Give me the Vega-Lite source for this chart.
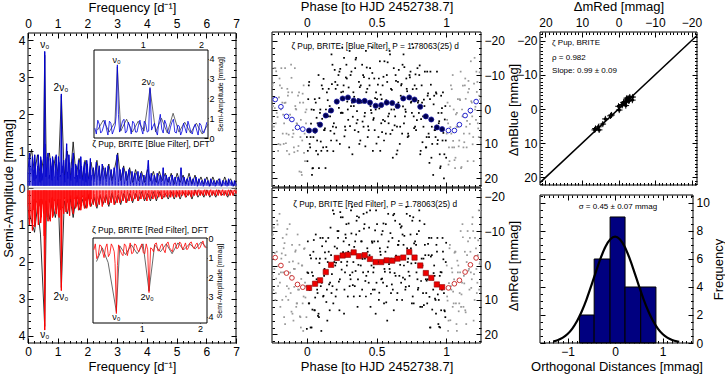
{
"$schema":"https://vega.github.io/schema/vega-lite/v6.json",
"width":725,"height":381,"autosize":"none","padding":0,"background":"white",
"config":{"view":{"stroke":null},"axis":{"domain":false,"grid":false,"tickColor":"black","tickSize":-5,"labelPadding":8,"labelFont":"Liberation Sans","labelFontSize":12,"labelColor":"black","titleFont":"Liberation Sans","titleFontSize":13,"titleFontWeight":"normal","titleColor":"black","labelFlush":false,"labelOverlap":false,"titlePadding":3},"text":{"font":"Liberation Sans","color":"black"}},
"datasets":{
"one":[{}],
"blue":[{"f":0,"a":0.45},{"f":0.05,"a":0.95},{"f":0.1,"a":0.3},{"f":0.15,"a":0.85},{"f":0.2,"a":0.2},{"f":0.25,"a":0.7},{"f":0.3,"a":0.35},{"f":0.35,"a":0.9},{"f":0.4,"a":0.15},{"f":0.45,"a":0.75},{"f":0.5,"a":0.4},{"f":0.54,"a":1.1},{"f":0.5616,"a":3.7},{"f":0.58,"a":1.2},{"f":0.6,"a":0.3},{"f":0.65,"a":0.85},{"f":0.7,"a":0.25},{"f":0.75,"a":0.8},{"f":0.8,"a":0.2},{"f":0.85,"a":0.75},{"f":0.9,"a":0.3},{"f":0.95,"a":0.9},{"f":1,"a":0.2},{"f":1.05,"a":0.7},{"f":1.1,"a":0.35},{"f":1.123,"a":2.55},{"f":1.15,"a":0.4},{"f":1.2,"a":0.75},{"f":1.25,"a":0.15},{"f":1.3,"a":1.2},{"f":1.35,"a":0.25},{"f":1.4,"a":0.7},{"f":1.45,"a":0.2},{"f":1.5,"a":0.8},{"f":1.55,"a":0.3},{"f":1.6,"a":0.65},{"f":1.65,"a":0.15},{"f":1.7,"a":0.75},{"f":1.75,"a":0.25},{"f":1.8,"a":0.6},{"f":1.85,"a":0.2},{"f":1.9,"a":0.7},{"f":1.95,"a":0.15},{"f":2,"a":0.65},{"f":2.05,"a":0.25},{"f":2.1,"a":0.8},{"f":2.15,"a":0.2},{"f":2.2,"a":0.55},{"f":2.25,"a":0.15},{"f":2.3,"a":0.7},{"f":2.35,"a":0.2},{"f":2.4,"a":0.6},{"f":2.45,"a":0.1},{"f":2.5,"a":0.65},{"f":2.55,"a":0.2},{"f":2.6,"a":0.55},{"f":2.65,"a":0.15},{"f":2.7,"a":0.6},{"f":2.75,"a":0.2},{"f":2.8,"a":0.5},{"f":2.85,"a":0.1},{"f":2.9,"a":0.55},{"f":2.95,"a":0.2},{"f":3,"a":0.9},{"f":3.05,"a":0.15},{"f":3.1,"a":0.5},{"f":3.15,"a":0.2},{"f":3.2,"a":0.55},{"f":3.25,"a":0.1},{"f":3.3,"a":0.45},{"f":3.35,"a":0.2},{"f":3.4,"a":0.5},{"f":3.45,"a":0.1},{"f":3.5,"a":0.45},{"f":3.55,"a":0.15},{"f":3.6,"a":0.4},{"f":3.65,"a":0.1},{"f":3.7,"a":0.45},{"f":3.75,"a":0.15},{"f":3.8,"a":0.4},{"f":3.85,"a":0.1},{"f":3.9,"a":0.35},{"f":3.95,"a":0.15},{"f":4,"a":0.4},{"f":4.05,"a":0.75},{"f":4.1,"a":0.15},{"f":4.15,"a":0.4},{"f":4.2,"a":0.1},{"f":4.25,"a":0.35},{"f":4.3,"a":0.15},{"f":4.35,"a":0.4},{"f":4.4,"a":0.1},{"f":4.45,"a":0.35},{"f":4.5,"a":0.15},{"f":4.55,"a":0.55},{"f":4.6,"a":0.1},{"f":4.65,"a":0.35},{"f":4.7,"a":0.15},{"f":4.75,"a":0.3},{"f":4.8,"a":0.1},{"f":4.85,"a":0.35},{"f":4.9,"a":0.15},{"f":4.95,"a":0.3},{"f":5,"a":0.1},{"f":5.05,"a":0.3},{"f":5.1,"a":0.15},{"f":5.15,"a":0.55},{"f":5.2,"a":0.1},{"f":5.25,"a":0.3},{"f":5.3,"a":0.1},{"f":5.35,"a":0.25},{"f":5.4,"a":0.15},{"f":5.45,"a":0.3},{"f":5.5,"a":0.1},{"f":5.55,"a":0.25},{"f":5.6,"a":0.1},{"f":5.65,"a":0.3},{"f":5.7,"a":0.05},{"f":5.75,"a":0.25},{"f":5.8,"a":0.1},{"f":5.85,"a":0.2},{"f":5.9,"a":0.05},{"f":5.95,"a":0.25},{"f":6,"a":0.1},{"f":6.05,"a":0.2},{"f":6.1,"a":0.05},{"f":6.15,"a":0.25},{"f":6.2,"a":0.1},{"f":6.25,"a":0.2},{"f":6.3,"a":0.05},{"f":6.35,"a":0.2},{"f":6.4,"a":0.1},{"f":6.45,"a":0.25},{"f":6.5,"a":0.05},{"f":6.55,"a":0.2},{"f":6.6,"a":0.1},{"f":6.65,"a":0.2},{"f":6.7,"a":0.05},{"f":6.75,"a":0.25},{"f":6.8,"a":0.1},{"f":6.85,"a":0.2},{"f":6.9,"a":0.05},{"f":6.95,"a":0.2},{"f":7,"a":0.1},
{"f":0.175,"a":0.5},{"f":0.225,"a":0.9},{"f":0.275,"a":0.25},{"f":0.325,"a":0.6},{"f":0.375,"a":0.45},{"f":0.425,"a":0.85},{"f":0.475,"a":0.2},{"f":0.525,"a":0.65},{"f":0.625,"a":0.55},{"f":0.675,"a":0.95},{"f":0.725,"a":0.35},{"f":0.775,"a":0.6},{"f":0.825,"a":0.85},{"f":0.875,"a":0.3},{"f":0.925,"a":0.65},{"f":0.975,"a":0.45},{"f":1.025,"a":0.85},{"f":1.075,"a":0.3},{"f":1.175,"a":0.6},{"f":1.225,"a":0.35},{"f":1.275,"a":0.8},{"f":1.325,"a":0.45},{"f":1.375,"a":0.9},{"f":1.425,"a":0.35},{"f":1.475,"a":0.55},{"f":1.525,"a":0.95},{"f":1.575,"a":0.25},{"f":1.625,"a":0.6},{"f":1.675,"a":0.35},{"f":1.725,"a":0.5},{"f":1.775,"a":0.85},{"f":1.825,"a":0.3},{"f":1.875,"a":0.55},{"f":1.925,"a":0.4},{"f":1.975,"a":0.75},{"f":2.025,"a":0.3},{"f":2.075,"a":0.5},{"f":2.125,"a":0.35}],
"blueK":[{"f":0.02,"a":0.6},{"f":0.12,"a":1.05},{"f":0.22,"a":0.4},{"f":0.32,"a":0.9},{"f":0.42,"a":0.3},{"f":0.52,"a":0.8},{"f":0.5616,"a":3.6},{"f":0.62,"a":0.35},{"f":0.72,"a":0.95},{"f":0.82,"a":0.3},{"f":0.92,"a":0.85},{"f":1.02,"a":0.35},{"f":1.123,"a":2.5},{"f":1.22,"a":0.3},{"f":1.32,"a":1.0},{"f":1.42,"a":0.25},{"f":1.52,"a":1.25},{"f":1.62,"a":0.3},{"f":1.72,"a":0.8},{"f":1.82,"a":0.25},{"f":1.92,"a":0.75},{"f":2.02,"a":0.2},{"f":2.12,"a":0.7},{"f":2.22,"a":0.25},{"f":2.32,"a":0.75},{"f":2.42,"a":0.2},{"f":2.52,"a":0.6},{"f":2.62,"a":0.25},{"f":2.72,"a":0.65},{"f":2.82,"a":0.2},{"f":2.92,"a":0.55},{"f":3.02,"a":0.95},{"f":3.12,"a":0.2},{"f":3.22,"a":0.6},{"f":3.32,"a":0.2},{"f":3.42,"a":0.55},{"f":3.52,"a":0.15},{"f":3.62,"a":0.5},{"f":3.72,"a":0.2},{"f":3.82,"a":0.45},{"f":3.92,"a":0.15},{"f":4.02,"a":0.5},{"f":4.12,"a":0.2},{"f":4.22,"a":0.45},{"f":4.32,"a":0.15},{"f":4.42,"a":0.45},{"f":4.52,"a":0.2},{"f":4.62,"a":0.4},{"f":4.72,"a":0.15},{"f":4.82,"a":0.4},{"f":4.92,"a":0.1},{"f":5.02,"a":0.4},{"f":5.12,"a":0.15},{"f":5.22,"a":0.35},{"f":5.32,"a":0.1},{"f":5.42,"a":0.4},{"f":5.52,"a":0.1},{"f":5.62,"a":0.35},{"f":5.72,"a":0.1},{"f":5.82,"a":0.3},{"f":5.92,"a":0.1},{"f":6.02,"a":0.3},{"f":6.12,"a":0.05},{"f":6.22,"a":0.3},{"f":6.32,"a":0.1},{"f":6.42,"a":0.25},{"f":6.52,"a":0.05},{"f":6.62,"a":0.3},{"f":6.72,"a":0.1},{"f":6.82,"a":0.25},{"f":6.92,"a":0.05},{"f":7,"a":0.2}],
"red":[{"f":0,"a":0.5},{"f":0.05,"a":1.0},{"f":0.1,"a":0.35},{"f":0.15,"a":1.15},{"f":0.2,"a":0.3},{"f":0.25,"a":0.9},{"f":0.3,"a":0.4},{"f":0.35,"a":1.0},{"f":0.4,"a":0.3},{"f":0.45,"a":0.8},{"f":0.5,"a":0.45},{"f":0.54,"a":1.3},{"f":0.5616,"a":3.85},{"f":0.58,"a":1.4},{"f":0.6,"a":0.35},{"f":0.65,"a":0.8},{"f":0.7,"a":0.3},{"f":0.75,"a":0.9},{"f":0.8,"a":0.25},{"f":0.85,"a":0.75},{"f":0.9,"a":0.35},{"f":0.95,"a":0.7},{"f":1,"a":0.3},{"f":1.05,"a":0.8},{"f":1.1,"a":0.6},{"f":1.123,"a":2.78},{"f":1.15,"a":0.5},{"f":1.2,"a":0.7},{"f":1.25,"a":0.25},{"f":1.3,"a":0.65},{"f":1.35,"a":0.3},{"f":1.4,"a":0.75},{"f":1.45,"a":0.2},{"f":1.5,"a":0.6},{"f":1.55,"a":0.3},{"f":1.6,"a":0.55},{"f":1.65,"a":0.2},{"f":1.7,"a":0.6},{"f":1.75,"a":0.25},{"f":1.8,"a":0.5},{"f":1.85,"a":0.2},{"f":1.9,"a":0.55},{"f":1.95,"a":0.25},{"f":2,"a":0.5},{"f":2.05,"a":0.15},{"f":2.1,"a":0.5},{"f":2.15,"a":0.25},{"f":2.2,"a":0.45},{"f":2.25,"a":0.15},{"f":2.3,"a":0.5},{"f":2.35,"a":0.2},{"f":2.4,"a":0.45},{"f":2.45,"a":0.15},{"f":2.5,"a":0.5},{"f":2.55,"a":0.2},{"f":2.6,"a":0.4},{"f":2.65,"a":0.15},{"f":2.7,"a":0.45},{"f":2.75,"a":0.2},{"f":2.8,"a":0.4},{"f":2.85,"a":0.1},{"f":2.9,"a":0.45},{"f":2.95,"a":0.2},{"f":3,"a":0.4},{"f":3.05,"a":0.15},{"f":3.1,"a":0.4},{"f":3.15,"a":0.1},{"f":3.2,"a":0.35},{"f":3.25,"a":0.15},{"f":3.3,"a":0.4},{"f":3.35,"a":0.1},{"f":3.4,"a":0.35},{"f":3.45,"a":0.15},{"f":3.5,"a":0.35},{"f":3.55,"a":0.1},{"f":3.6,"a":0.3},{"f":3.65,"a":0.15},{"f":3.7,"a":0.35},{"f":3.75,"a":0.1},{"f":3.8,"a":0.3},{"f":3.85,"a":0.15},{"f":3.9,"a":0.3},{"f":3.95,"a":0.1},{"f":4,"a":0.35},{"f":4.05,"a":0.15},{"f":4.1,"a":0.3},{"f":4.15,"a":0.1},{"f":4.2,"a":0.3},{"f":4.25,"a":0.15},{"f":4.3,"a":0.3},{"f":4.35,"a":0.1},{"f":4.4,"a":0.25},{"f":4.45,"a":0.1},{"f":4.5,"a":0.3},{"f":4.55,"a":0.15},{"f":4.6,"a":0.25},{"f":4.65,"a":0.1},{"f":4.7,"a":0.25},{"f":4.75,"a":0.1},{"f":4.8,"a":0.25},{"f":4.85,"a":0.1},{"f":4.9,"a":0.25},{"f":4.95,"a":0.1},{"f":5,"a":0.25},{"f":5.05,"a":0.1},{"f":5.1,"a":0.25},{"f":5.15,"a":0.1},{"f":5.2,"a":0.2},{"f":5.25,"a":0.1},{"f":5.3,"a":0.25},{"f":5.35,"a":0.1},{"f":5.4,"a":0.2},{"f":5.45,"a":0.1},{"f":5.5,"a":0.25},{"f":5.55,"a":0.1},{"f":5.6,"a":0.2},{"f":5.65,"a":0.1},{"f":5.7,"a":0.2},{"f":5.75,"a":0.05},{"f":5.8,"a":0.2},{"f":5.85,"a":0.1},{"f":5.9,"a":0.2},{"f":5.95,"a":0.05},{"f":6,"a":0.2},{"f":6.05,"a":0.1},{"f":6.1,"a":0.2},{"f":6.15,"a":0.05},{"f":6.2,"a":0.2},{"f":6.25,"a":0.1},{"f":6.3,"a":0.2},{"f":6.35,"a":0.05},{"f":6.4,"a":0.2},{"f":6.45,"a":0.1},{"f":6.5,"a":0.2},{"f":6.55,"a":0.05},{"f":6.6,"a":0.2},{"f":6.65,"a":0.1},{"f":6.7,"a":0.2},{"f":6.75,"a":0.05},{"f":6.8,"a":0.2},{"f":6.85,"a":0.1},{"f":6.9,"a":0.2},{"f":6.95,"a":0.05},{"f":7,"a":0.15},
{"f":0.175,"a":0.6},{"f":0.225,"a":1.05},{"f":0.275,"a":0.35},{"f":0.325,"a":0.7},{"f":0.375,"a":0.5},{"f":0.425,"a":0.95},{"f":0.475,"a":0.3},{"f":0.525,"a":0.7},{"f":0.625,"a":0.6},{"f":0.675,"a":0.9},{"f":0.725,"a":0.4},{"f":0.775,"a":0.55},{"f":0.825,"a":0.8},{"f":0.875,"a":0.3},{"f":0.925,"a":0.6},{"f":0.975,"a":0.45},{"f":1.025,"a":0.75},{"f":1.075,"a":0.3},{"f":1.175,"a":0.55},{"f":1.225,"a":0.3},{"f":1.275,"a":0.65},{"f":1.325,"a":0.4},{"f":1.375,"a":0.6},{"f":1.425,"a":0.3},{"f":1.475,"a":0.5},{"f":1.525,"a":0.7},{"f":1.575,"a":0.25},{"f":1.625,"a":0.5},{"f":1.675,"a":0.3},{"f":1.725,"a":0.45},{"f":1.775,"a":0.6},{"f":1.825,"a":0.25},{"f":1.875,"a":0.45},{"f":1.925,"a":0.35},{"f":1.975,"a":0.55},{"f":2.025,"a":0.3},{"f":2.075,"a":0.45},{"f":2.125,"a":0.3}],
"redK":[{"f":0.02,"a":0.6},{"f":0.12,"a":0.9},{"f":0.22,"a":1.2},{"f":0.32,"a":0.5},{"f":0.42,"a":1.25},{"f":0.5616,"a":3.75},{"f":0.62,"a":0.4},{"f":0.72,"a":0.85},{"f":0.82,"a":0.35},{"f":0.92,"a":0.8},{"f":1.02,"a":0.3},{"f":1.123,"a":2.7},{"f":1.22,"a":0.35},{"f":1.32,"a":0.7},{"f":1.42,"a":0.3},{"f":1.52,"a":0.8},{"f":1.62,"a":0.25},{"f":1.72,"a":0.6},{"f":1.82,"a":0.3},{"f":1.92,"a":0.55},{"f":2.02,"a":0.2},{"f":2.12,"a":0.5},{"f":2.22,"a":0.25},{"f":2.32,"a":0.55},{"f":2.42,"a":0.2},{"f":2.52,"a":0.45},{"f":2.62,"a":0.2},{"f":2.72,"a":0.5},{"f":2.82,"a":0.15},{"f":2.92,"a":0.45},{"f":3.02,"a":0.2},{"f":3.12,"a":0.45},{"f":3.22,"a":0.15},{"f":3.32,"a":0.4},{"f":3.42,"a":0.15},{"f":3.52,"a":0.4},{"f":3.62,"a":0.15},{"f":3.72,"a":0.35},{"f":3.82,"a":0.1},{"f":3.92,"a":0.35},{"f":4.02,"a":0.15},{"f":4.12,"a":0.35},{"f":4.22,"a":0.1},{"f":4.32,"a":0.35},{"f":4.42,"a":0.1},{"f":4.52,"a":0.3},{"f":4.62,"a":0.15},{"f":4.72,"a":0.3},{"f":4.82,"a":0.1},{"f":4.92,"a":0.3},{"f":5.02,"a":0.1},{"f":5.12,"a":0.3},{"f":5.22,"a":0.1},{"f":5.32,"a":0.25},{"f":5.42,"a":0.1},{"f":5.52,"a":0.3},{"f":5.62,"a":0.05},{"f":5.72,"a":0.25},{"f":5.82,"a":0.1},{"f":5.92,"a":0.25},{"f":6.02,"a":0.05},{"f":6.12,"a":0.25},{"f":6.22,"a":0.1},{"f":6.32,"a":0.25},{"f":6.42,"a":0.05},{"f":6.52,"a":0.2},{"f":6.62,"a":0.1},{"f":6.72,"a":0.25},{"f":6.82,"a":0.05},{"f":6.92,"a":0.2},{"f":7,"a":0.1}],
"dotsB":[{"p":-0.25,"m":4.0},{"p":-0.24,"m":-7.7},{"p":-0.23,"m":-0.4},{"p":-0.22,"m":-11.1},{"p":-0.21,"m":2.2},{"p":-0.2,"m":-3.5},{"p":-0.19,"m":10.2},{"p":-0.18,"m":-6.2},{"p":-0.17,"m":1.5},{"p":-0.16,"m":-1.9},{"p":-0.15,"m":9.8},{"p":-0.14,"m":-6.0},{"p":-0.13,"m":7.3},{"p":-0.12,"m":1.5},{"p":-0.11,"m":-9.2},{"p":-0.1,"m":6.0},{"p":-0.09,"m":12.4},{"p":-0.08,"m":-0.2},{"p":-0.07,"m":4.2},{"p":-0.06,"m":10.6},{"p":-0.05,"m":-2.0},{"p":-0.04,"m":18.2},{"p":-0.03,"m":-4.6},{"p":-0.02,"m":12.6},{"p":-0.01,"m":0.8},{"p":0,"m":8.0},{"p":0.01,"m":-3.0},{"p":0.02,"m":10.0},{"p":0.03,"m":4.1},{"p":0.04,"m":17.1},{"p":0.05,"m":0.1},{"p":0.06,"m":6.7},{"p":0.07,"m":2.4},{"p":0.08,"m":13.0},{"p":0.09,"m":-3.3},{"p":0.1,"m":9.3},{"p":0.11,"m":2.7},{"p":0.12,"m":-8.9},{"p":0.13,"m":5.5},{"p":0.14,"m":10.9},{"p":0.15,"m":-2.7},{"p":0.16,"m":0.7},{"p":0.17,"m":6.2},{"p":0.18,"m":-7.4},{"p":0.19,"m":12.1},{"p":0.2,"m":-11.5},{"p":0.21,"m":5.2},{"p":0.22,"m":-7.1},{"p":0.23,"m":-0.5},{"p":0.24,"m":-11.8},{"p":0.25,"m":0.9},{"p":0.26,"m":-5.2},{"p":0.27,"m":7.8},{"p":0.28,"m":-9.3},{"p":0.29,"m":-2.3},{"p":0.3,"m":-6.4},{"p":0.31,"m":4.8},{"p":0.32,"m":-11.0},{"p":0.33,"m":2.1},{"p":0.34,"m":-3.7},{"p":0.35,"m":-14.5},{"p":0.36,"m":0.5},{"p":0.37,"m":6.5},{"p":0.38,"m":-6.5},{"p":0.39,"m":-2.5},{"p":0.4,"m":3.5},{"p":0.41,"m":-9.4},{"p":0.42,"m":10.7},{"p":0.43,"m":-12.2},{"p":0.44,"m":4.9},{"p":0.45,"m":-7.0},{"p":0.46,"m":0.2},{"p":0.47,"m":-10.6},{"p":0.48,"m":2.5},{"p":0.49,"m":-3.3},{"p":0.5,"m":9.9},{"p":0.51,"m":-7.2},{"p":0.52,"m":-0.3},{"p":0.53,"m":-4.3},{"p":0.54,"m":6.6},{"p":0.55,"m":-9.5},{"p":0.56,"m":3.4},{"p":0.57,"m":-2.7},{"p":0.58,"m":-13.7},{"p":0.59,"m":1.2},{"p":0.6,"m":7.1},{"p":0.61,"m":-5.7},{"p":0.62,"m":-1.6},{"p":0.63,"m":4.6},{"p":0.64,"m":-8.3},{"p":0.65,"m":11.9},{"p":0.66,"m":-11.5},{"p":0.67,"m":5.0},{"p":0.68,"m":-7.4},{"p":0.69,"m":-0.9},{"p":0.7,"m":-12.3},{"p":0.71,"m":0.7},{"p":0.72,"m":-5.3},{"p":0.73,"m":7.7},{"p":0.74,"m":-9.3},{"p":0.75,"m":-2.3},{"p":0.76,"m":-5.9},{"p":0.77,"m":5.4},{"p":0.78,"m":-10.2},{"p":0.79,"m":3.1},{"p":0.8,"m":-2.5},{"p":0.81,"m":-12.8},{"p":0.82,"m":2.8},{"p":0.83,"m":9.5},{"p":0.84,"m":-2.9},{"p":0.85,"m":1.8},{"p":0.86,"m":8.0},{"p":0.87,"m":-4.7},{"p":0.88,"m":15.5},{"p":0.89,"m":-7.2},{"p":0.9,"m":10.0},{"p":0.91,"m":-1.5},{"p":0.92,"m":6.0},{"p":0.93,"m":-4.6},{"p":0.94,"m":8.9},{"p":0.95,"m":3.4},{"p":0.96,"m":16.5},{"p":0.97,"m":-0.4},{"p":0.98,"m":6.8},{"p":0.99,"m":2.9},{"p":1.0,"m":14.0},{"p":1.01,"m":-2.0},{"p":1.02,"m":11.0},{"p":1.03,"m":5.1},{"p":1.04,"m":-5.9},{"p":1.05,"m":9.1},{"p":1.06,"m":14.7},{"p":1.07,"m":1.4},{"p":1.08,"m":5.0},{"p":1.09,"m":10.7},{"p":1.1,"m":-2.7},{"p":1.11,"m":16.7},{"p":1.12,"m":-6.9},{"p":1.13,"m":9.5},{"p":1.14,"m":-3.1},{"p":1.15,"m":3.3},{"p":1.16,"m":-8.3},{"p":1.17,"m":4.2},{"p":1.18,"m":-2.4},{"p":1.19,"m":10.1},{"p":1.2,"m":-7.5},{"p":1.21,"m":-0.8},{"p":1.22,"m":-5.1},{"p":1.23,"m":5.5},{"p":1.24,"m":-10.8},
{"p":-0.246,"m":-7},{"p":-0.236,"m":5},{"p":-0.226,"m":-12},{"p":-0.216,"m":1},{"p":-0.206,"m":12},{"p":-0.196,"m":-9},{"p":-0.186,"m":0},{"p":-0.176,"m":-2},{"p":-0.166,"m":10},{"p":-0.156,"m":-12},{"p":-0.146,"m":7},{"p":-0.136,"m":-4},{"p":-0.126,"m":13},{"p":-0.116,"m":3},{"p":-0.106,"m":-5},{"p":-0.096,"m":7},{"p":-0.086,"m":-12},{"p":-0.076,"m":0},{"p":-0.066,"m":12},{"p":-0.056,"m":-5},{"p":-0.046,"m":8},{"p":-0.036,"m":19},{"p":-0.026,"m":-2},{"p":-0.016,"m":7},{"p":-0.006,"m":4},{"p":0.004,"m":15},{"p":0.014,"m":-7},{"p":0.024,"m":11},{"p":0.034,"m":0},{"p":0.044,"m":17},{"p":0.054,"m":6},{"p":0.064,"m":-2},{"p":0.074,"m":9},{"p":0.084,"m":-10},{"p":0.094,"m":1},{"p":0.104,"m":12},{"p":0.114,"m":-6},{"p":0.124,"m":6},{"p":0.134,"m":17},{"p":0.144,"m":-5},{"p":0.154,"m":2},{"p":0.164,"m":-1},{"p":0.174,"m":9},{"p":0.184,"m":-13},{"p":0.194,"m":4},{"p":0.204,"m":-8},{"p":0.214,"m":9},{"p":0.224,"m":-2},{"p":0.234,"m":-11},{"p":0.244,"m":1},{"p":0.254,"m":-18},{"p":0.264,"m":-7},{"p":0.274,"m":5},{"p":0.284,"m":-13},{"p":0.294,"m":0},{"p":0.304,"m":11},{"p":0.314,"m":-10},{"p":0.324,"m":-2},{"p":0.334,"m":-5},{"p":0.344,"m":6},{"p":0.354,"m":-15},{"p":0.364,"m":3},{"p":0.374,"m":-8},{"p":0.384,"m":9},{"p":0.394,"m":-2},{"p":0.404,"m":-10},{"p":0.414,"m":2},{"p":0.424,"m":-17},{"p":0.434,"m":-6},{"p":0.444,"m":6},{"p":0.454,"m":-12},{"p":0.464,"m":1},{"p":0.474,"m":12},{"p":0.484,"m":-9},{"p":0.494,"m":0},{"p":0.504,"m":-3},{"p":0.514,"m":8},{"p":0.524,"m":-14},{"p":0.534,"m":4},{"p":0.544,"m":-7},{"p":0.554,"m":9},{"p":0.564,"m":-2},{"p":0.574,"m":-10},{"p":0.584,"m":2},{"p":0.594,"m":-17},{"p":0.604,"m":-6},{"p":0.614,"m":6},{"p":0.624,"m":-12},{"p":0.634,"m":2},{"p":0.644,"m":13},{"p":0.654,"m":-8},{"p":0.664,"m":-1},{"p":0.674,"m":-4},{"p":0.684,"m":7},{"p":0.694,"m":-16},{"p":0.704,"m":2},{"p":0.714,"m":-9},{"p":0.724,"m":8},{"p":0.734,"m":-3},{"p":0.744,"m":-11},{"p":0.754,"m":1},{"p":0.764,"m":-18},{"p":0.774,"m":-7},{"p":0.784,"m":6},{"p":0.794,"m":-12},{"p":0.804,"m":1},{"p":0.814,"m":13},{"p":0.824,"m":-7},{"p":0.834,"m":2},{"p":0.844,"m":-1},{"p":0.854,"m":11},{"p":0.864,"m":-11},{"p":0.874,"m":7},{"p":0.884,"m":-3},{"p":0.894,"m":14},{"p":0.904,"m":3},{"p":0.914,"m":-4},{"p":0.924,"m":8},{"p":0.934,"m":-11},{"p":0.944,"m":1},{"p":0.954,"m":13},{"p":0.964,"m":-4},{"p":0.974,"m":9},{"p":0.984,"m":20},{"p":0.994,"m":-1},{"p":1.004,"m":7},{"p":1.014,"m":4},{"p":1.024,"m":15},{"p":1.034,"m":-7},{"p":1.044,"m":11},{"p":1.054,"m":0},{"p":1.064,"m":17},{"p":1.074,"m":5},{"p":1.084,"m":-3},{"p":1.094,"m":9},{"p":1.104,"m":-11},{"p":1.114,"m":0},{"p":1.124,"m":11},{"p":1.134,"m":-7},{"p":1.144,"m":5},{"p":1.154,"m":15},{"p":1.164,"m":-6},{"p":1.174,"m":1},{"p":1.184,"m":-2},{"p":1.194,"m":8},{"p":1.204,"m":-15},{"p":1.214,"m":3},{"p":1.224,"m":-8},{"p":1.234,"m":8},{"p":1.244,"m":-3},
{"p":-0.243,"m":-1},{"p":-0.233,"m":-12},{"p":-0.223,"m":4},{"p":-0.213,"m":-3},{"p":-0.203,"m":10},{"p":-0.193,"m":-7},{"p":-0.183,"m":-12},{"p":-0.173,"m":7},{"p":-0.163,"m":4},{"p":-0.153,"m":-2},{"p":-0.143,"m":12},{"p":-0.133,"m":-5},{"p":-0.123,"m":3},{"p":-0.113,"m":-13},{"p":-0.103,"m":8},{"p":-0.093,"m":11},{"p":-0.083,"m":-1},{"p":-0.073,"m":4},{"p":-0.063,"m":-4},{"p":-0.053,"m":18},{"p":-0.043,"m":3},{"p":-0.033,"m":9},{"p":-0.023,"m":-7},{"p":-0.013,"m":15},{"p":-0.003,"m":0},{"p":0.007,"m":12},{"p":0.017,"m":-8},{"p":0.027,"m":8},{"p":0.037,"m":19},{"p":0.047,"m":8},{"p":0.057,"m":-3},{"p":0.067,"m":12},{"p":0.077,"m":4},{"p":0.087,"m":17},{"p":0.097,"m":0},{"p":0.107,"m":-7},{"p":0.117,"m":11},{"p":0.127,"m":6},{"p":0.137,"m":0},{"p":0.147,"m":12},{"p":0.157,"m":-6},{"p":0.167,"m":2},{"p":0.177,"m":-16},{"p":0.187,"m":5},{"p":0.197,"m":7},{"p":0.207,"m":-6},{"p":0.217,"m":-2},{"p":0.227,"m":-10},{"p":0.237,"m":10},{"p":0.247,"m":-5},{"p":0.257,"m":1},{"p":0.267,"m":-15},{"p":0.277,"m":6},{"p":0.287,"m":-9},{"p":0.297,"m":3},{"p":0.307,"m":-17},{"p":0.317,"m":-1},{"p":0.327,"m":13},{"p":0.337,"m":-1},{"p":0.347,"m":-12},{"p":0.357,"m":4},{"p":0.367,"m":-3},{"p":0.377,"m":10},{"p":0.387,"m":-7},{"p":0.397,"m":-13},{"p":0.407,"m":5},{"p":0.417,"m":1},{"p":0.427,"m":-5},{"p":0.437,"m":8},{"p":0.447,"m":-9},{"p":0.457,"m":-1},{"p":0.467,"m":-18},{"p":0.477,"m":3},{"p":0.487,"m":6},{"p":0.497,"m":-5},{"p":0.507,"m":-1},{"p":0.517,"m":-9},{"p":0.527,"m":12},{"p":0.537,"m":-3},{"p":0.547,"m":3},{"p":0.557,"m":-14},{"p":0.567,"m":7},{"p":0.577,"m":-8},{"p":0.587,"m":4},{"p":0.597,"m":-16},{"p":0.607,"m":0},{"p":0.617,"m":14},{"p":0.627,"m":0},{"p":0.637,"m":-10},{"p":0.647,"m":5},{"p":0.657,"m":-2},{"p":0.667,"m":10},{"p":0.677,"m":-7},{"p":0.687,"m":-13},{"p":0.697,"m":4},{"p":0.707,"m":0},{"p":0.717,"m":-6},{"p":0.727,"m":7},{"p":0.737,"m":-10},{"p":0.747,"m":-2},{"p":0.757,"m":-19},{"p":0.767,"m":2},{"p":0.777,"m":5},{"p":0.787,"m":-6},{"p":0.797,"m":-2},{"p":0.807,"m":-10},{"p":0.817,"m":12},{"p":0.827,"m":-2},{"p":0.837,"m":5},{"p":0.847,"m":-11},{"p":0.857,"m":11},{"p":0.867,"m":-4},{"p":0.877,"m":8},{"p":0.887,"m":-11},{"p":0.897,"m":5},{"p":0.907,"m":19},{"p":0.917,"m":6},{"p":0.927,"m":-5},{"p":0.937,"m":10},{"p":0.947,"m":4},{"p":0.957,"m":17},{"p":0.967,"m":1},{"p":0.977,"m":-5},{"p":0.987,"m":13},{"p":0.997,"m":9},{"p":1.007,"m":3},{"p":1.017,"m":16},{"p":1.027,"m":-1},{"p":1.037,"m":7},{"p":1.047,"m":-10},{"p":1.057,"m":11},{"p":1.067,"m":14},{"p":1.077,"m":1},{"p":1.087,"m":5},{"p":1.097,"m":-3},{"p":1.107,"m":17},{"p":1.117,"m":2},{"p":1.127,"m":7},{"p":1.137,"m":-9},{"p":1.147,"m":11},{"p":1.157,"m":-5},{"p":1.167,"m":7},{"p":1.177,"m":-14},{"p":1.187,"m":2},{"p":1.197,"m":15},{"p":1.207,"m":0},{"p":1.217,"m":-11},{"p":1.227,"m":4},{"p":1.237,"m":-4},{"p":1.247,"m":9}],
"dotsR":[{"p":-0.25,"m":-8.3},{"p":-0.24,"m":7.1},{"p":-0.23,"m":-3.6},{"p":-0.22,"m":3.8},{"p":-0.21,"m":-11.9},{"p":-0.2,"m":2.5},{"p":-0.19,"m":12.0},{"p":-0.18,"m":-3.5},{"p":-0.17,"m":2.0},{"p":-0.16,"m":-6.5},{"p":-0.15,"m":9.0},{"p":-0.14,"m":-10.6},{"p":-0.13,"m":6.7},{"p":-0.12,"m":2.1},{"p":-0.11,"m":13.4},{"p":-0.1,"m":-1.2},{"p":-0.09,"m":6.2},{"p":-0.08,"m":-4.4},{"p":-0.07,"m":11.0},{"p":-0.06,"m":-0.6},{"p":-0.05,"m":14.8},{"p":-0.04,"m":3.9},{"p":-0.03,"m":11.0},{"p":-0.02,"m":-4.8},{"p":-0.01,"m":9.3},{"p":0,"m":18.4},{"p":0.01,"m":2.2},{"p":0.02,"m":7.1},{"p":0.03,"m":-2.1},{"p":0.04,"m":12.8},{"p":0.05,"m":-7.4},{"p":0.06,"m":9.3},{"p":0.07,"m":4.0},{"p":0.08,"m":14.6},{"p":0.09,"m":-0.7},{"p":0.1,"m":6.0},{"p":0.11,"m":-5.6},{"p":0.12,"m":8.8},{"p":0.13,"m":-3.8},{"p":0.14,"m":10.6},{"p":0.15,"m":-1.0},{"p":0.16,"m":5.5},{"p":0.17,"m":-11.0},{"p":0.18,"m":2.5},{"p":0.19,"m":11.0},{"p":0.2,"m":-5.5},{"p":0.21,"m":-0.8},{"p":0.22,"m":-10.0},{"p":0.23,"m":4.7},{"p":0.24,"m":-15.5},{"p":0.25,"m":1.2},{"p":0.26,"m":-3.9},{"p":0.27,"m":7.0},{"p":0.28,"m":-8.0},{"p":0.29,"m":-1.1},{"p":0.3,"m":-12.2},{"p":0.31,"m":2.8},{"p":0.32,"m":-9.3},{"p":0.33,"m":5.7},{"p":0.34,"m":-5.4},{"p":0.35,"m":1.6},{"p":0.36,"m":-14.3},{"p":0.37,"m":-0.2},{"p":0.38,"m":8.9},{"p":0.39,"m":-7.0},{"p":0.4,"m":-1.9},{"p":0.41,"m":-10.7},{"p":0.42,"m":4.5},{"p":0.43,"m":-15.4},{"p":0.44,"m":1.8},{"p":0.45,"m":-3.0},{"p":0.46,"m":8.2},{"p":0.47,"m":-6.6},{"p":0.48,"m":0.6},{"p":0.49,"m":-10.2},{"p":0.5,"m":5.0},{"p":0.51,"m":-7.0},{"p":0.52,"m":7.9},{"p":0.53,"m":-3.1},{"p":0.54,"m":3.8},{"p":0.55,"m":-12.2},{"p":0.56,"m":1.8},{"p":0.57,"m":10.7},{"p":0.58,"m":-5.3},{"p":0.59,"m":-0.4},{"p":0.6,"m":-9.4},{"p":0.61,"m":5.5},{"p":0.62,"m":-14.6},{"p":0.63,"m":2.2},{"p":0.64,"m":-2.9},{"p":0.65,"m":8.0},{"p":0.66,"m":-7.1},{"p":0.67,"m":-0.2},{"p":0.68,"m":-11.4},{"p":0.69,"m":3.5},{"p":0.7,"m":-8.6},{"p":0.71,"m":6.2},{"p":0.72,"m":-5.0},{"p":0.73,"m":1.8},{"p":0.74,"m":-14.4},{"p":0.75,"m":-0.6},{"p":0.76,"m":9.0},{"p":0.77,"m":-6.4},{"p":0.78,"m":-0.7},{"p":0.79,"m":-9.1},{"p":0.8,"m":6.5},{"p":0.81,"m":-13.0},{"p":0.82,"m":4.5},{"p":0.83,"m":0.0},{"p":0.84,"m":11.5},{"p":0.85,"m":-3.0},{"p":0.86,"m":4.4},{"p":0.87,"m":-6.3},{"p":0.88,"m":9.1},{"p":0.89,"m":-2.6},{"p":0.9,"m":12.8},{"p":0.91,"m":2.2},{"p":0.92,"m":9.6},{"p":0.93,"m":-6.0},{"p":0.94,"m":8.4},{"p":0.95,"m":17.8},{"p":0.96,"m":1.9},{"p":0.97,"m":7.0},{"p":0.98,"m":-1.8},{"p":0.99,"m":13.3},{"p":1.0,"m":-6.6},{"p":1.01,"m":10.2},{"p":1.02,"m":5.1},{"p":1.03,"m":15.9},{"p":1.04,"m":0.8},{"p":1.05,"m":7.6},{"p":1.06,"m":-3.7},{"p":1.07,"m":11.0},{"p":1.08,"m":-1.4},{"p":1.09,"m":13.3},{"p":1.1,"m":2.0},{"p":1.11,"m":8.4},{"p":1.12,"m":-8.2},{"p":1.13,"m":5.2},{"p":1.14,"m":13.6},{"p":1.15,"m":-3.0},{"p":1.16,"m":1.5},{"p":1.17,"m":-8.0},{"p":1.18,"m":6.5},{"p":1.19,"m":-14.0},{"p":1.2,"m":2.5},{"p":1.21,"m":-2.8},{"p":1.22,"m":8.0},{"p":1.23,"m":-7.3},{"p":1.24,"m":-0.5},
{"p":-0.246,"m":3},{"p":-0.236,"m":-11},{"p":-0.226,"m":10},{"p":-0.216,"m":-4},{"p":-0.206,"m":6},{"p":-0.196,"m":-15},{"p":-0.186,"m":2},{"p":-0.176,"m":10},{"p":-0.166,"m":-5},{"p":-0.156,"m":17},{"p":-0.146,"m":-9},{"p":-0.136,"m":2},{"p":-0.126,"m":-1},{"p":-0.116,"m":8},{"p":-0.106,"m":-6},{"p":-0.096,"m":16},{"p":-0.086,"m":1},{"p":-0.076,"m":12},{"p":-0.066,"m":-9},{"p":-0.056,"m":7},{"p":-0.046,"m":15},{"p":-0.036,"m":0},{"p":-0.026,"m":19},{"p":-0.016,"m":-5},{"p":-0.006,"m":6},{"p":0.004,"m":2},{"p":0.014,"m":11},{"p":0.024,"m":-3},{"p":0.034,"m":18},{"p":0.044,"m":3},{"p":0.054,"m":13},{"p":0.064,"m":-9},{"p":0.074,"m":7},{"p":0.084,"m":14},{"p":0.094,"m":-2},{"p":0.104,"m":19},{"p":0.114,"m":-8},{"p":0.124,"m":3},{"p":0.134,"m":-2},{"p":0.144,"m":7},{"p":0.154,"m":-8},{"p":0.164,"m":13},{"p":0.174,"m":-3},{"p":0.184,"m":6},{"p":0.194,"m":-15},{"p":0.204,"m":0},{"p":0.214,"m":7},{"p":0.224,"m":-8},{"p":0.234,"m":13},{"p":0.244,"m":-14},{"p":0.254,"m":-3},{"p":0.264,"m":-7},{"p":0.274,"m":2},{"p":0.284,"m":-12},{"p":0.294,"m":9},{"p":0.304,"m":-6},{"p":0.314,"m":4},{"p":0.324,"m":-17},{"p":0.334,"m":-1},{"p":0.344,"m":6},{"p":0.354,"m":-9},{"p":0.364,"m":12},{"p":0.374,"m":-14},{"p":0.384,"m":-3},{"p":0.394,"m":-7},{"p":0.404,"m":2},{"p":0.414,"m":-12},{"p":0.424,"m":9},{"p":0.434,"m":-5},{"p":0.444,"m":5},{"p":0.454,"m":-16},{"p":0.464,"m":0},{"p":0.474,"m":7},{"p":0.484,"m":-7},{"p":0.494,"m":14},{"p":0.504,"m":-12},{"p":0.514,"m":-1},{"p":0.524,"m":-5},{"p":0.534,"m":4},{"p":0.544,"m":-10},{"p":0.554,"m":11},{"p":0.564,"m":-4},{"p":0.574,"m":6},{"p":0.584,"m":-15},{"p":0.594,"m":1},{"p":0.604,"m":8},{"p":0.614,"m":-8},{"p":0.624,"m":13},{"p":0.634,"m":-13},{"p":0.644,"m":-2},{"p":0.654,"m":-6},{"p":0.664,"m":3},{"p":0.674,"m":-11},{"p":0.684,"m":10},{"p":0.694,"m":-6},{"p":0.704,"m":4},{"p":0.714,"m":-17},{"p":0.724,"m":-1},{"p":0.734,"m":6},{"p":0.744,"m":-9},{"p":0.754,"m":11},{"p":0.764,"m":-14},{"p":0.774,"m":-2},{"p":0.784,"m":-6},{"p":0.794,"m":4},{"p":0.804,"m":-10},{"p":0.814,"m":12},{"p":0.824,"m":-2},{"p":0.834,"m":8},{"p":0.844,"m":-12},{"p":0.854,"m":4},{"p":0.864,"m":11},{"p":0.874,"m":-3},{"p":0.884,"m":18},{"p":0.894,"m":-8},{"p":0.904,"m":4},{"p":0.914,"m":0},{"p":0.924,"m":10},{"p":0.934,"m":-4},{"p":0.944,"m":17},{"p":0.954,"m":3},{"p":0.964,"m":13},{"p":0.974,"m":-8},{"p":0.984,"m":8},{"p":0.994,"m":15},{"p":1.004,"m":0},{"p":1.014,"m":19},{"p":1.024,"m":-5},{"p":1.034,"m":6},{"p":1.044,"m":2},{"p":1.054,"m":11},{"p":1.064,"m":-4},{"p":1.074,"m":17},{"p":1.084,"m":2},{"p":1.094,"m":11},{"p":1.104,"m":-10},{"p":1.114,"m":5},{"p":1.124,"m":12},{"p":1.134,"m":-4},{"p":1.144,"m":17},{"p":1.154,"m":-10},{"p":1.164,"m":1},{"p":1.174,"m":-4},{"p":1.184,"m":4},{"p":1.194,"m":-10},{"p":1.204,"m":10},{"p":1.214,"m":-5},{"p":1.224,"m":5},{"p":1.234,"m":-16},{"p":1.244,"m":-1},
{"p":-0.243,"m":-9},{"p":-0.233,"m":1},{"p":-0.223,"m":8},{"p":-0.213,"m":-13},{"p":-0.203,"m":0},{"p":-0.193,"m":5},{"p":-0.183,"m":-2},{"p":-0.173,"m":-8},{"p":-0.163,"m":15},{"p":-0.153,"m":-3},{"p":-0.143,"m":6},{"p":-0.133,"m":10},{"p":-0.123,"m":-12},{"p":-0.113,"m":3},{"p":-0.103,"m":14},{"p":-0.093,"m":1},{"p":-0.083,"m":-4},{"p":-0.073,"m":11},{"p":-0.063,"m":7},{"p":-0.053,"m":-6},{"p":-0.043,"m":18},{"p":-0.033,"m":0},{"p":-0.023,"m":9},{"p":-0.013,"m":5},{"p":-0.003,"m":15},{"p":0.007,"m":-7},{"p":0.017,"m":11},{"p":0.027,"m":18},{"p":0.037,"m":2},{"p":0.047,"m":-4},{"p":0.057,"m":13},{"p":0.067,"m":-2},{"p":0.077,"m":8},{"p":0.087,"m":15},{"p":0.097,"m":-8},{"p":0.107,"m":5},{"p":0.117,"m":9},{"p":0.127,"m":1},{"p":0.137,"m":-7},{"p":0.147,"m":16},{"p":0.157,"m":-4},{"p":0.167,"m":5},{"p":0.177,"m":8},{"p":0.187,"m":-16},{"p":0.197,"m":-1},{"p":0.207,"m":9},{"p":0.217,"m":-5},{"p":0.227,"m":-10},{"p":0.237,"m":4},{"p":0.247,"m":-1},{"p":0.257,"m":-14},{"p":0.267,"m":14},{"p":0.277,"m":-9},{"p":0.287,"m":0},{"p":0.297,"m":-4},{"p":0.307,"m":6},{"p":0.317,"m":-16},{"p":0.327,"m":2},{"p":0.337,"m":9},{"p":0.347,"m":-7},{"p":0.357,"m":-13},{"p":0.367,"m":4},{"p":0.377,"m":-10},{"p":0.387,"m":0},{"p":0.397,"m":7},{"p":0.407,"m":-15},{"p":0.417,"m":-2},{"p":0.427,"m":3},{"p":0.437,"m":-4},{"p":0.447,"m":-11},{"p":0.457,"m":12},{"p":0.467,"m":-7},{"p":0.477,"m":2},{"p":0.487,"m":7},{"p":0.497,"m":-16},{"p":0.507,"m":-1},{"p":0.517,"m":10},{"p":0.527,"m":-4},{"p":0.537,"m":-9},{"p":0.547,"m":5},{"p":0.557,"m":1},{"p":0.567,"m":-12},{"p":0.577,"m":16},{"p":0.587,"m":-7},{"p":0.597,"m":2},{"p":0.607,"m":-2},{"p":0.617,"m":7},{"p":0.627,"m":-15},{"p":0.637,"m":3},{"p":0.647,"m":10},{"p":0.657,"m":-6},{"p":0.667,"m":-12},{"p":0.677,"m":5},{"p":0.687,"m":-9},{"p":0.697,"m":0},{"p":0.707,"m":7},{"p":0.717,"m":-15},{"p":0.727,"m":-2},{"p":0.737,"m":3},{"p":0.747,"m":-5},{"p":0.757,"m":-13},{"p":0.767,"m":11},{"p":0.777,"m":-7},{"p":0.787,"m":2},{"p":0.797,"m":7},{"p":0.807,"m":-16},{"p":0.817,"m":0},{"p":0.827,"m":12},{"p":0.837,"m":-2},{"p":0.847,"m":-6},{"p":0.857,"m":8},{"p":0.867,"m":4},{"p":0.877,"m":-8},{"p":0.887,"m":18},{"p":0.897,"m":-3},{"p":0.907,"m":7},{"p":0.917,"m":3},{"p":0.927,"m":14},{"p":0.937,"m":-8},{"p":0.947,"m":10},{"p":0.957,"m":18},{"p":0.967,"m":2},{"p":0.977,"m":-4},{"p":0.987,"m":13},{"p":0.997,"m":-1},{"p":1.007,"m":9},{"p":1.017,"m":16},{"p":1.027,"m":-6},{"p":1.037,"m":7},{"p":1.047,"m":12},{"p":1.057,"m":4},{"p":1.067,"m":-4},{"p":1.077,"m":19},{"p":1.087,"m":0},{"p":1.097,"m":8},{"p":1.107,"m":12},{"p":1.117,"m":-12},{"p":1.127,"m":3},{"p":1.137,"m":13},{"p":1.147,"m":-1},{"p":1.157,"m":-7},{"p":1.167,"m":7},{"p":1.177,"m":2},{"p":1.187,"m":-12},{"p":1.197,"m":16},{"p":1.207,"m":-8},{"p":1.217,"m":1},{"p":1.227,"m":-3},{"p":1.237,"m":7},{"p":1.247,"m":-16}],
"binB":[{"p":-0.227,"m":-2.9},{"p":-0.186,"m":-0.8},{"p":-0.146,"m":2.0},{"p":-0.107,"m":2.9},{"p":-0.067,"m":5.2},{"p":-0.029,"m":5.7},{"p":0.016,"m":6.1},{"p":0.059,"m":6.1},{"p":0.095,"m":4.4},{"p":0.136,"m":1.75},{"p":0.174,"m":0.3},{"p":0.215,"m":-2.3},{"p":0.257,"m":-3.2},{"p":0.295,"m":-3.5},{"p":0.336,"m":-2.6},{"p":0.374,"m":-2.4},{"p":0.415,"m":-2.5},{"p":0.453,"m":-2.0},{"p":0.494,"m":-1.1},{"p":0.534,"m":-1.3},{"p":0.573,"m":-2.0},{"p":0.613,"m":-1.9},{"p":0.651,"m":-1.0},{"p":0.692,"m":-3.2},{"p":0.735,"m":-3.5},{"p":0.773,"m":-2.9},{"p":0.814,"m":-0.8},{"p":0.854,"m":2.0},{"p":0.893,"m":2.9},{"p":0.933,"m":5.2},{"p":0.971,"m":5.7},{"p":1.016,"m":6.1},{"p":1.059,"m":6.1},{"p":1.095,"m":4.4},{"p":1.136,"m":1.75},{"p":1.174,"m":0.3},{"p":1.215,"m":-2.3}],
"binR":[{"p":-0.227,"m":-2.3},{"p":-0.186,"m":0},{"p":-0.146,"m":2.2},{"p":-0.107,"m":3.6},{"p":-0.067,"m":5.5},{"p":-0.029,"m":6.3},{"p":0.016,"m":6.5},{"p":0.059,"m":5.3},{"p":0.095,"m":4.3},{"p":0.136,"m":1.9},{"p":0.174,"m":-0.2},{"p":0.215,"m":-2.2},{"p":0.257,"m":-2.9},{"p":0.295,"m":-3.1},{"p":0.336,"m":-3.8},{"p":0.374,"m":-2.7},{"p":0.415,"m":-3.0},{"p":0.453,"m":-1.9},{"p":0.494,"m":-1.0},{"p":0.534,"m":-1.0},{"p":0.573,"m":-1.5},{"p":0.613,"m":-1.4},{"p":0.651,"m":-2.0},{"p":0.692,"m":-2.3},{"p":0.735,"m":-3.9},{"p":0.773,"m":-2.3},{"p":0.814,"m":0},{"p":0.854,"m":2.2},{"p":0.893,"m":3.6},{"p":0.933,"m":5.5},{"p":0.971,"m":6.3},{"p":1.016,"m":6.5},{"p":1.059,"m":5.3},{"p":1.095,"m":4.3},{"p":1.136,"m":1.9},{"p":1.174,"m":-0.2},{"p":1.215,"m":-2.2}],
"corr":[{"r":6.5,"b":6.1,"e":0.9},{"r":5.3,"b":6.1,"e":0.9},{"r":4.3,"b":4.4,"e":0.9},{"r":1.9,"b":1.75,"e":0.9},{"r":-0.2,"b":0.3,"e":0.9},{"r":-2.2,"b":-2.3,"e":0.9},{"r":-2.9,"b":-3.2,"e":0.9},{"r":-3.1,"b":-3.5,"e":0.9},{"r":-3.8,"b":-2.6,"e":0.9},{"r":-2.7,"b":-2.4,"e":0.9},{"r":-3.0,"b":-2.5,"e":0.9},{"r":-1.9,"b":-2.0,"e":0.9},{"r":-1.0,"b":-1.1,"e":0.9},{"r":-1.0,"b":-1.3,"e":0.9},{"r":-1.5,"b":-2.0,"e":0.9},{"r":-1.4,"b":-1.9,"e":0.9},{"r":-2.0,"b":-1.0,"e":0.9},{"r":-2.3,"b":-3.2,"e":0.9},{"r":-3.9,"b":-3.5,"e":0.9},{"r":-2.3,"b":-2.9,"e":0.9},{"r":0,"b":-0.8,"e":0.9},{"r":2.2,"b":2.0,"e":0.9},{"r":3.6,"b":2.9,"e":0.9},{"r":5.5,"b":5.2,"e":0.9},{"r":6.3,"b":5.7,"e":0.9}],
"hist":[{"lo":-0.75,"hi":-0.44,"n":2},{"lo":-0.44,"hi":-0.105,"n":6},{"lo":-0.105,"hi":0.21,"n":9},{"lo":0.21,"hi":0.54,"n":4},{"lo":0.54,"hi":0.86,"n":4}],
"gauss":[{"x":-1.3,"y":0.12},{"x":-1.2,"y":0.22},{"x":-1.1,"y":0.38},{"x":-1.0,"y":0.64},{"x":-0.9,"y":1.03},{"x":-0.8,"y":1.57},{"x":-0.7,"y":2.27},{"x":-0.6,"y":3.12},{"x":-0.5,"y":4.1},{"x":-0.4,"y":5.12},{"x":-0.3,"y":6.09},{"x":-0.2,"y":6.89},{"x":-0.1,"y":7.41},{"x":0,"y":7.6},{"x":0.1,"y":7.41},{"x":0.2,"y":6.89},{"x":0.3,"y":6.09},{"x":0.4,"y":5.12},{"x":0.5,"y":4.1},{"x":0.6,"y":3.12},{"x":0.7,"y":2.27},{"x":0.8,"y":1.57},{"x":0.9,"y":1.03},{"x":1.0,"y":0.64},{"x":1.1,"y":0.38},{"x":1.2,"y":0.22},{"x":1.3,"y":0.12},{"x":1.35,"y":0.09}]
},
"layer":[
{"data":{"values":[{"x0":0,"x1":7,"y0":-4.2,"y1":4.2}]},"mark":{"type":"rect","fillOpacity":0,"stroke":"black","strokeWidth":1},
 "encoding":{"x":{"field":"x0","type":"quantitative","scale":{"domain":[0,7],"range":[28,236],"nice":false,"zero":false},"axis":{"orient":"bottom","offset":-38,"values":[0,1,2,3,4,5,6,7],"title":"Frequency [d⁻¹]"}},"x2":{"field":"x1"},
 "y":{"field":"y0","type":"quantitative","scale":{"domain":[-4.2,4.2],"range":[343,33],"nice":false,"zero":false},"axis":{"orient":"left","offset":-28,"values":[-4,-3,-2,-1,0,1,2,3,4],"labelExpr":"'' + abs(datum.value)","title":"Semi-Amplitude [mmag]"}},"y2":{"field":"y1"}}},
{"data":{"values":[{"x0":0,"x1":7,"y0":-4.2,"y1":4.2}]},"mark":{"type":"rect","fillOpacity":0,"strokeOpacity":0},
 "encoding":{"x":{"field":"x0","type":"quantitative","scale":{"domain":[0,7],"range":[28,236],"nice":false,"zero":false},"axis":{"orient":"bottom","offset":-38,"values":[0,0.2,0.4,0.6,0.8,1,1.2,1.4,1.6,1.8,2,2.2,2.4,2.6,2.8,3,3.2,3.4,3.6,3.8,4,4.2,4.4,4.6,4.8,5,5.2,5.4,5.6,5.8,6,6.2,6.4,6.6,6.8,7],"labels":false,"title":null,"tickSize":-2.5}},"x2":{"field":"x1"},
 "y":{"field":"y0","type":"quantitative","scale":{"domain":[-4.2,4.2],"range":[343,33],"nice":false,"zero":false},"axis":{"orient":"left","offset":-28,"values":[-4,-3.8,-3.6,-3.4,-3.2,-3,-2.8,-2.6,-2.4,-2.2,-2,-1.8,-1.6,-1.4,-1.2,-1,-0.8,-0.6,-0.4,-0.2,0,0.2,0.4,0.6,0.8,1,1.2,1.4,1.6,1.8,2,2.2,2.4,2.6,2.8,3,3.2,3.4,3.6,3.8,4],"labels":false,"title":null,"tickSize":-2.5}},"y2":{"field":"y1"}}},
{"data":{"values":[{"x0":0,"x1":7,"y0":-4.2,"y1":4.2}]},"mark":{"type":"rect","fillOpacity":0,"strokeOpacity":0},
 "encoding":{"x":{"field":"x0","type":"quantitative","scale":{"domain":[0,7],"range":[28,236],"nice":false,"zero":false},"axis":{"orient":"top","offset":-33,"values":[0,0.2,0.4,0.6,0.8,1,1.2,1.4,1.6,1.8,2,2.2,2.4,2.6,2.8,3,3.2,3.4,3.6,3.8,4,4.2,4.4,4.6,4.8,5,5.2,5.4,5.6,5.8,6,6.2,6.4,6.6,6.8,7],"labels":false,"title":null,"tickSize":-2.5}},"x2":{"field":"x1"},
 "y":{"field":"y0","type":"quantitative","scale":{"domain":[-4.2,4.2],"range":[343,33],"nice":false,"zero":false},"axis":{"orient":"right","offset":-489,"values":[-4,-3.8,-3.6,-3.4,-3.2,-3,-2.8,-2.6,-2.4,-2.2,-2,-1.8,-1.6,-1.4,-1.2,-1,-0.8,-0.6,-0.4,-0.2,0,0.2,0.4,0.6,0.8,1,1.2,1.4,1.6,1.8,2,2.2,2.4,2.6,2.8,3,3.2,3.4,3.6,3.8,4],"labels":false,"title":null,"tickSize":-2.5}},"y2":{"field":"y1"}}},
{"data":{"name":"blueK"},"mark":{"type":"line","color":"black","strokeWidth":0.8},
 "encoding":{"x":{"field":"f","type":"quantitative","scale":{"domain":[0,7],"range":[28,236],"nice":false,"zero":false},"axis":null},"y":{"field":"a","type":"quantitative","scale":{"domain":[-4.2,4.2],"range":[343,33],"nice":false,"zero":false},"axis":null}}},
{"data":{"name":"blue"},"mark":{"type":"rule","color":"#1a1ad0","strokeWidth":1.2},
 "encoding":{"x":{"field":"f","type":"quantitative","scale":{"domain":[0,7],"range":[28,236],"nice":false,"zero":false},"axis":null},"y":{"field":"a","type":"quantitative","scale":{"domain":[-4.2,4.2],"range":[343,33],"nice":false,"zero":false},"axis":null},"y2":{"datum":0.06}}},
{"data":{"name":"blue"},"mark":{"type":"line","color":"#0000cc","strokeWidth":0.8},
 "encoding":{"x":{"field":"f","type":"quantitative","scale":{"domain":[0,7],"range":[28,236],"nice":false,"zero":false},"axis":null},"y":{"field":"a","type":"quantitative","scale":{"domain":[-4.2,4.2],"range":[343,33],"nice":false,"zero":false},"axis":null}}},
{"data":{"name":"redK"},"mark":{"type":"line","color":"black","strokeWidth":0.8},
 "encoding":{"x":{"field":"f","type":"quantitative","scale":{"domain":[0,7],"range":[28,236],"nice":false,"zero":false},"axis":null},"y":{"field":"a","type":"quantitative","scale":{"domain":[0,4.2],"range":[188,343],"nice":false,"zero":false},"axis":null}}},
{"data":{"name":"red"},"mark":{"type":"rule","color":"#ff1010","strokeWidth":1.2},
 "encoding":{"x":{"field":"f","type":"quantitative","scale":{"domain":[0,7],"range":[28,236],"nice":false,"zero":false},"axis":null},"y":{"field":"a","type":"quantitative","scale":{"domain":[0,4.2],"range":[188,343],"nice":false,"zero":false},"axis":null},"y2":{"datum":0.06}}},
{"data":{"name":"red"},"mark":{"type":"line","color":"#ff0000","strokeWidth":0.8},
 "encoding":{"x":{"field":"f","type":"quantitative","scale":{"domain":[0,7],"range":[28,236],"nice":false,"zero":false},"axis":null},"y":{"field":"a","type":"quantitative","scale":{"domain":[0,4.2],"range":[188,343],"nice":false,"zero":false},"axis":null}}},
{"data":{"values":[{"x0":0,"x1":7,"y":0}]},"mark":{"type":"rule","color":"#aaaaaa","strokeWidth":1},
 "encoding":{"x":{"field":"x0","type":"quantitative","scale":{"domain":[0,7],"range":[28,236],"nice":false,"zero":false},"axis":{"orient":"top","offset":-33,"values":[0,1,2,3,4,5,6,7],"title":"Frequency [d⁻¹]"}},"x2":{"field":"x1"},
 "y":{"field":"y","type":"quantitative","scale":{"domain":[-4.2,4.2],"range":[343,33],"nice":false,"zero":false},"axis":{"orient":"right","offset":-489,"values":[-4,-3,-2,-1,0,1,2,3,4],"labels":false,"title":null}}}},
{"data":{"name":"one"},"mark":{"type":"text","fontSize":10},"encoding":{"x":{"datum":0.57,"type":"quantitative","scale":{"domain":[0,7],"range":[28,236],"nice":false,"zero":false},"axis":null},"y":{"datum":3.88,"type":"quantitative","scale":{"domain":[-4.2,4.2],"range":[343,33],"nice":false,"zero":false},"axis":null},"text":{"value":"ν₀"}}},
{"data":{"name":"one"},"mark":{"type":"text","fontSize":10},"encoding":{"x":{"datum":1.11,"type":"quantitative","scale":{"domain":[0,7],"range":[28,236],"nice":false,"zero":false},"axis":null},"y":{"datum":2.72,"type":"quantitative","scale":{"domain":[-4.2,4.2],"range":[343,33],"nice":false,"zero":false},"axis":null},"text":{"value":"2ν₀"}}},
{"data":{"name":"one"},"mark":{"type":"text","fontSize":10},"encoding":{"x":{"datum":1.11,"type":"quantitative","scale":{"domain":[0,7],"range":[28,236],"nice":false,"zero":false},"axis":null},"y":{"datum":-2.95,"type":"quantitative","scale":{"domain":[-4.2,4.2],"range":[343,33],"nice":false,"zero":false},"axis":null},"text":{"value":"2ν₀"}}},
{"data":{"name":"one"},"mark":{"type":"text","fontSize":10},"encoding":{"x":{"datum":0.57,"type":"quantitative","scale":{"domain":[0,7],"range":[28,236],"nice":false,"zero":false},"axis":null},"y":{"datum":-3.98,"type":"quantitative","scale":{"domain":[-4.2,4.2],"range":[343,33],"nice":false,"zero":false},"axis":null},"text":{"value":"ν₀"}}},

{"data":{"values":[{"x0":0.16,"x1":2.12,"y0":0,"y1":4.45}]},"mark":{"type":"rect","fill":"white","stroke":"black","strokeWidth":1},
 "encoding":{"x":{"field":"x0","type":"quantitative","scale":{"domain":[0.16,2.12],"range":[94,208],"nice":false,"zero":false},"axis":{"orient":"top","offset":-50,"values":[1,2],"title":null,"labelFontSize":9,"tickSize":-4,"labelPadding":5}},"x2":{"field":"x1"},
 "y":{"field":"y0","type":"quantitative","scale":{"domain":[0,4.45],"range":[138,50],"nice":false,"zero":false},"axis":{"orient":"right","offset":-517,"values":[0,1,2,3,4],"title":"Semi-Amplitude [mmag]","titleFontSize":7,"labelFontSize":9,"titleAngle":270,"titleBaseline":"top","titlePadding":2,"tickSize":-4,"labelPadding":5}},"y2":{"field":"y1"}}},
{"data":{"name":"blueK"},"transform":[{"filter":"datum.f >= 0.16 && datum.f <= 2.12"}],"mark":{"type":"line","color":"#444444","strokeWidth":0.8},
 "encoding":{"x":{"field":"f","type":"quantitative","scale":{"domain":[0.16,2.12],"range":[94,208],"nice":false,"zero":false},"axis":null},"y":{"field":"a","type":"quantitative","scale":{"domain":[0,4.45],"range":[138,50],"nice":false,"zero":false},"axis":null}}},
{"data":{"name":"blue"},"transform":[{"filter":"datum.f >= 0.16 && datum.f <= 2.12"}],"mark":{"type":"line","color":"#0000dd","strokeWidth":0.8},
 "encoding":{"x":{"field":"f","type":"quantitative","scale":{"domain":[0.16,2.12],"range":[94,208],"nice":false,"zero":false},"axis":null},"y":{"field":"a","type":"quantitative","scale":{"domain":[0,4.45],"range":[138,50],"nice":false,"zero":false},"axis":null}}},
{"data":{"name":"one"},"mark":{"type":"text","fontSize":9},"encoding":{"x":{"datum":0.55,"type":"quantitative","scale":{"domain":[0.16,2.12],"range":[94,208],"nice":false,"zero":false},"axis":null},"y":{"datum":3.95,"type":"quantitative","scale":{"domain":[0,4.45],"range":[138,50],"nice":false,"zero":false},"axis":null},"text":{"value":"ν₀"}}},
{"data":{"name":"one"},"mark":{"type":"text","fontSize":9},"encoding":{"x":{"datum":1.09,"type":"quantitative","scale":{"domain":[0.16,2.12],"range":[94,208],"nice":false,"zero":false},"axis":null},"y":{"datum":2.85,"type":"quantitative","scale":{"domain":[0,4.45],"range":[138,50],"nice":false,"zero":false},"axis":null},"text":{"value":"2ν₀"}}},
{"data":{"name":"one"},"mark":{"type":"text","fontSize":8.5},"encoding":{"x":{"datum":1.14,"type":"quantitative","scale":{"domain":[0.16,2.12],"range":[94,208],"nice":false,"zero":false},"axis":null},"y":{"datum":-0.32,"type":"quantitative","scale":{"domain":[0,4.45],"range":[138,50],"nice":false,"zero":false},"axis":null},"text":{"value":"ζ Pup, BRITE [Blue Filter], DFT"}}},

{"data":{"values":[{"x0":0.16,"x1":2.12,"y0":0,"y1":4.33}]},"mark":{"type":"rect","fill":"white","stroke":"black","strokeWidth":1},
 "encoding":{"x":{"field":"x0","type":"quantitative","scale":{"domain":[0.16,2.12],"range":[93,207],"nice":false,"zero":false},"axis":{"orient":"bottom","offset":-58,"values":[1,2],"title":null,"labelFontSize":9,"tickSize":-4,"labelPadding":5}},"x2":{"field":"x1"},
 "y":{"field":"y0","type":"quantitative","scale":{"domain":[0,4.33],"range":[238,323],"nice":false,"zero":false},"axis":{"orient":"right","offset":-518,"values":[0,1,2,3,4],"title":"Semi-Amplitude [mmag]","titleFontSize":7,"labelFontSize":9,"titleAngle":270,"titleBaseline":"top","titlePadding":2,"tickSize":-4,"labelPadding":5}},"y2":{"field":"y1"}}},
{"data":{"name":"redK"},"transform":[{"filter":"datum.f >= 0.16 && datum.f <= 2.12"}],"mark":{"type":"line","color":"#444444","strokeWidth":0.8},
 "encoding":{"x":{"field":"f","type":"quantitative","scale":{"domain":[0.16,2.12],"range":[93,207],"nice":false,"zero":false},"axis":null},"y":{"field":"a","type":"quantitative","scale":{"domain":[0,4.33],"range":[238,323],"nice":false,"zero":false},"axis":null}}},
{"data":{"name":"red"},"transform":[{"filter":"datum.f >= 0.16 && datum.f <= 2.12"}],"mark":{"type":"line","color":"#ff0000","strokeWidth":0.8},
 "encoding":{"x":{"field":"f","type":"quantitative","scale":{"domain":[0.16,2.12],"range":[93,207],"nice":false,"zero":false},"axis":null},"y":{"field":"a","type":"quantitative","scale":{"domain":[0,4.33],"range":[238,323],"nice":false,"zero":false},"axis":null}}},
{"data":{"name":"one"},"mark":{"type":"text","fontSize":9},"encoding":{"x":{"datum":1.09,"type":"quantitative","scale":{"domain":[0.16,2.12],"range":[93,207],"nice":false,"zero":false},"axis":null},"y":{"datum":3.0,"type":"quantitative","scale":{"domain":[0,4.33],"range":[238,323],"nice":false,"zero":false},"axis":null},"text":{"value":"2ν₀"}}},
{"data":{"name":"one"},"mark":{"type":"text","fontSize":9},"encoding":{"x":{"datum":0.56,"type":"quantitative","scale":{"domain":[0.16,2.12],"range":[93,207],"nice":false,"zero":false},"axis":null},"y":{"datum":4.0,"type":"quantitative","scale":{"domain":[0,4.33],"range":[238,323],"nice":false,"zero":false},"axis":null},"text":{"value":"ν₀"}}},
{"data":{"name":"one"},"mark":{"type":"text","fontSize":8.5},"encoding":{"x":{"datum":1.14,"type":"quantitative","scale":{"domain":[0.16,2.12],"range":[93,207],"nice":false,"zero":false},"axis":null},"y":{"datum":-0.42,"type":"quantitative","scale":{"domain":[0,4.33],"range":[238,323],"nice":false,"zero":false},"axis":null},"text":{"value":"ζ Pup, BRITE [Red Filter], DFT"}}},

{"data":{"values":[{"x0":-0.25,"x1":1.25,"y0":-22.5,"y1":22.5}]},"mark":{"type":"rect","fillOpacity":0,"stroke":"black","strokeWidth":1},
 "encoding":{"x":{"field":"x0","type":"quantitative","scale":{"domain":[-0.25,1.25],"range":[272,481],"nice":false,"zero":false},"axis":{"orient":"top","offset":-32,"values":[0,0.5,1],"format":"~g","title":"Phase [to HJD 2452738.7]"}},"x2":{"field":"x1"},
 "y":{"field":"y0","type":"quantitative","scale":{"domain":[-22.5,22.5],"range":[32,187],"nice":false,"zero":false},"axis":{"orient":"right","offset":-244,"values":[-20,-10,0,10,20],"title":"ΔmBlue [mmag]","titleAngle":270,"titleBaseline":"top"}},"y2":{"field":"y1"}}},
{"data":{"values":[{"x0":-0.25,"x1":1.25,"y0":-22.5,"y1":22.5}]},"mark":{"type":"rect","fillOpacity":0,"strokeOpacity":0},
 "encoding":{"x":{"field":"x0","type":"quantitative","scale":{"domain":[-0.25,1.25],"range":[272,481],"nice":false,"zero":false},"axis":{"orient":"bottom","offset":-194,"values":[0,0.5,1],"labels":false,"title":null}},"x2":{"field":"x1"},
 "y":{"field":"y0","type":"quantitative","scale":{"domain":[-22.5,22.5],"range":[32,187],"nice":false,"zero":false},"axis":{"orient":"left","offset":-272,"values":[-20,-10,0,10,20],"labels":false,"title":null}},"y2":{"field":"y1"}}},
{"data":{"values":[{"x0":-0.25,"x1":1.25,"y0":-22.5,"y1":22.5}]},"mark":{"type":"rect","fillOpacity":0,"strokeOpacity":0},
 "encoding":{"x":{"field":"x0","type":"quantitative","scale":{"domain":[-0.25,1.25],"range":[272,481],"nice":false,"zero":false},"axis":{"orient":"bottom","offset":-194,"values":[-0.2083,-0.1667,-0.125,-0.0833,-0.0417,0.0417,0.0833,0.125,0.1667,0.2083,0.25,0.2917,0.3333,0.375,0.4167,0.4583,0.5417,0.5833,0.625,0.6667,0.7083,0.75,0.7917,0.8333,0.875,0.9167,0.9583,1.0417,1.0833,1.125,1.1667,1.2083],"labels":false,"title":null,"tickSize":-2.5}},"x2":{"field":"x1"},
 "y":{"field":"y0","type":"quantitative","scale":{"domain":[-22.5,22.5],"range":[32,187],"nice":false,"zero":false},"axis":{"orient":"left","offset":-272,"values":[-22,-18,-16,-14,-12,-8,-6,-4,-2,2,4,6,8,12,14,16,18,22],"labels":false,"title":null,"tickSize":-2.5}},"y2":{"field":"y1"}}},
{"data":{"values":[{"x0":-0.25,"x1":1.25,"y0":-22.5,"y1":22.5}]},"mark":{"type":"rect","fillOpacity":0,"strokeOpacity":0},
 "encoding":{"x":{"field":"x0","type":"quantitative","scale":{"domain":[-0.25,1.25],"range":[272,481],"nice":false,"zero":false},"axis":{"orient":"top","offset":-32,"values":[-0.2083,-0.1667,-0.125,-0.0833,-0.0417,0.0417,0.0833,0.125,0.1667,0.2083,0.25,0.2917,0.3333,0.375,0.4167,0.4583,0.5417,0.5833,0.625,0.6667,0.7083,0.75,0.7917,0.8333,0.875,0.9167,0.9583,1.0417,1.0833,1.125,1.1667,1.2083],"labels":false,"title":null,"tickSize":-2.5}},"x2":{"field":"x1"},
 "y":{"field":"y0","type":"quantitative","scale":{"domain":[-22.5,22.5],"range":[32,187],"nice":false,"zero":false},"axis":{"orient":"right","offset":-244,"values":[-22,-18,-16,-14,-12,-8,-6,-4,-2,2,4,6,8,12,14,16,18,22],"labels":false,"title":null,"tickSize":-2.5}},"y2":{"field":"y1"}}},
{"data":{"name":"dotsB"},"mark":{"type":"square","size":3,"filled":true,"opacity":1},
 "encoding":{"x":{"field":"p","type":"quantitative","scale":{"domain":[-0.25,1.25],"range":[272,481],"nice":false,"zero":false},"axis":null},"y":{"field":"m","type":"quantitative","scale":{"domain":[-22.5,22.5],"range":[32,187],"nice":false,"zero":false},"axis":null},"color":{"condition":{"test":"datum.p < 0 || datum.p > 1","value":"#999999"},"value":"black"}}},
{"data":{"name":"binB"},"transform":[{"filter":"datum.p < 0 || datum.p > 1"}],"mark":{"type":"circle","size":22,"fill":"white","fillOpacity":1,"stroke":"#2222cc","strokeWidth":1},
 "encoding":{"x":{"field":"p","type":"quantitative","scale":{"domain":[-0.25,1.25],"range":[272,481],"nice":false,"zero":false},"axis":null},"y":{"field":"m","type":"quantitative","scale":{"domain":[-22.5,22.5],"range":[32,187],"nice":false,"zero":false},"axis":null}}},
{"data":{"name":"binB"},"transform":[{"filter":"datum.p >= 0 && datum.p <= 1"}],"mark":{"type":"circle","size":26,"fill":"#000050","fillOpacity":1,"stroke":"#1a1aa0","strokeWidth":0.8},
 "encoding":{"x":{"field":"p","type":"quantitative","scale":{"domain":[-0.25,1.25],"range":[272,481],"nice":false,"zero":false},"axis":null},"y":{"field":"m","type":"quantitative","scale":{"domain":[-22.5,22.5],"range":[32,187],"nice":false,"zero":false},"axis":null}}},
{"data":{"name":"one"},"mark":{"type":"text","fontSize":8.3},"encoding":{"x":{"datum":0.49,"type":"quantitative","scale":{"domain":[-0.25,1.25],"range":[272,481],"nice":false,"zero":false},"axis":null},"y":{"datum":-18.2,"type":"quantitative","scale":{"domain":[-22.5,22.5],"range":[32,187],"nice":false,"zero":false},"axis":null},"text":{"value":"ζ Pup, BRITE: [Blue Filter],  P = 1.78063(25) d"}}},

{"data":{"values":[{"x0":-0.25,"x1":1.25,"y0":-22.5,"y1":22.5}]},"mark":{"type":"rect","fillOpacity":0,"stroke":"black","strokeWidth":1},
 "encoding":{"x":{"field":"x0","type":"quantitative","scale":{"domain":[-0.25,1.25],"range":[272,481],"nice":false,"zero":false},"axis":{"orient":"bottom","offset":-38,"values":[0,0.5,1],"format":"~g","title":"Phase [to HJD 2452738.7]"}},"x2":{"field":"x1"},
 "y":{"field":"y0","type":"quantitative","scale":{"domain":[-22.5,22.5],"range":[188,343],"nice":false,"zero":false},"axis":{"orient":"right","offset":-244,"values":[-20,-10,0,10,20],"title":"ΔmRed [mmag]","titleAngle":270,"titleBaseline":"top"}},"y2":{"field":"y1"}}},
{"data":{"values":[{"x0":-0.25,"x1":1.25,"y0":-22.5,"y1":22.5}]},"mark":{"type":"rect","fillOpacity":0,"strokeOpacity":0},
 "encoding":{"x":{"field":"x0","type":"quantitative","scale":{"domain":[-0.25,1.25],"range":[272,481],"nice":false,"zero":false},"axis":{"orient":"top","offset":-188,"values":[0,0.5,1],"labels":false,"title":null}},"x2":{"field":"x1"},
 "y":{"field":"y0","type":"quantitative","scale":{"domain":[-22.5,22.5],"range":[188,343],"nice":false,"zero":false},"axis":{"orient":"left","offset":-272,"values":[-20,-10,0,10,20],"labels":false,"title":null}},"y2":{"field":"y1"}}},
{"data":{"values":[{"x0":-0.25,"x1":1.25,"y0":-22.5,"y1":22.5}]},"mark":{"type":"rect","fillOpacity":0,"strokeOpacity":0},
 "encoding":{"x":{"field":"x0","type":"quantitative","scale":{"domain":[-0.25,1.25],"range":[272,481],"nice":false,"zero":false},"axis":{"orient":"top","offset":-188,"values":[-0.2083,-0.1667,-0.125,-0.0833,-0.0417,0.0417,0.0833,0.125,0.1667,0.2083,0.25,0.2917,0.3333,0.375,0.4167,0.4583,0.5417,0.5833,0.625,0.6667,0.7083,0.75,0.7917,0.8333,0.875,0.9167,0.9583,1.0417,1.0833,1.125,1.1667,1.2083],"labels":false,"title":null,"tickSize":-2.5}},"x2":{"field":"x1"},
 "y":{"field":"y0","type":"quantitative","scale":{"domain":[-22.5,22.5],"range":[188,343],"nice":false,"zero":false},"axis":{"orient":"left","offset":-272,"values":[-22,-18,-16,-14,-12,-8,-6,-4,-2,2,4,6,8,12,14,16,18,22],"labels":false,"title":null,"tickSize":-2.5}},"y2":{"field":"y1"}}},
{"data":{"values":[{"x0":-0.25,"x1":1.25,"y0":-22.5,"y1":22.5}]},"mark":{"type":"rect","fillOpacity":0,"strokeOpacity":0},
 "encoding":{"x":{"field":"x0","type":"quantitative","scale":{"domain":[-0.25,1.25],"range":[272,481],"nice":false,"zero":false},"axis":{"orient":"bottom","offset":-38,"values":[-0.2083,-0.1667,-0.125,-0.0833,-0.0417,0.0417,0.0833,0.125,0.1667,0.2083,0.25,0.2917,0.3333,0.375,0.4167,0.4583,0.5417,0.5833,0.625,0.6667,0.7083,0.75,0.7917,0.8333,0.875,0.9167,0.9583,1.0417,1.0833,1.125,1.1667,1.2083],"labels":false,"title":null,"tickSize":-2.5}},"x2":{"field":"x1"},
 "y":{"field":"y0","type":"quantitative","scale":{"domain":[-22.5,22.5],"range":[188,343],"nice":false,"zero":false},"axis":{"orient":"right","offset":-244,"values":[-22,-18,-16,-14,-12,-8,-6,-4,-2,2,4,6,8,12,14,16,18,22],"labels":false,"title":null,"tickSize":-2.5}},"y2":{"field":"y1"}}},
{"data":{"name":"dotsR"},"mark":{"type":"square","size":3,"filled":true,"opacity":1},
 "encoding":{"x":{"field":"p","type":"quantitative","scale":{"domain":[-0.25,1.25],"range":[272,481],"nice":false,"zero":false},"axis":null},"y":{"field":"m","type":"quantitative","scale":{"domain":[-22.5,22.5],"range":[188,343],"nice":false,"zero":false},"axis":null},"color":{"condition":{"test":"datum.p < 0 || datum.p > 1","value":"#999999"},"value":"black"}}},
{"data":{"name":"binR"},"transform":[{"filter":"datum.p < 0 || datum.p > 1"}],"mark":{"type":"circle","size":22,"fill":"white","fillOpacity":1,"stroke":"#cc3333","strokeWidth":1},
 "encoding":{"x":{"field":"p","type":"quantitative","scale":{"domain":[-0.25,1.25],"range":[272,481],"nice":false,"zero":false},"axis":null},"y":{"field":"m","type":"quantitative","scale":{"domain":[-22.5,22.5],"range":[188,343],"nice":false,"zero":false},"axis":null}}},
{"data":{"name":"binR"},"transform":[{"filter":"datum.p >= 0 && datum.p <= 1"}],"mark":{"type":"square","size":28,"fill":"#ee0000","fillOpacity":1,"stroke":"#880000","strokeWidth":0.6},
 "encoding":{"x":{"field":"p","type":"quantitative","scale":{"domain":[-0.25,1.25],"range":[272,481],"nice":false,"zero":false},"axis":null},"y":{"field":"m","type":"quantitative","scale":{"domain":[-22.5,22.5],"range":[188,343],"nice":false,"zero":false},"axis":null}}},
{"data":{"name":"one"},"mark":{"type":"text","fontSize":8.3},"encoding":{"x":{"datum":0.49,"type":"quantitative","scale":{"domain":[-0.25,1.25],"range":[272,481],"nice":false,"zero":false},"axis":null},"y":{"datum":-17.6,"type":"quantitative","scale":{"domain":[-22.5,22.5],"range":[188,343],"nice":false,"zero":false},"axis":null},"text":{"value":"ζ Pup, BRITE [Red Filter],  P = 1.78063(25) d"}}},

{"data":{"values":[{"x0":-21.5,"x1":21.5,"y0":-22.5,"y1":22.2}]},"mark":{"type":"rect","fillOpacity":0,"stroke":"black","strokeWidth":1},
 "encoding":{"x":{"field":"x0","type":"quantitative","scale":{"domain":[-21.5,21.5],"range":[697,540],"nice":false,"zero":false},"axis":{"orient":"top","offset":-32,"values":[20,10,0,-10,-20],"title":"ΔmRed [mmag]"}},"x2":{"field":"x1"},
 "y":{"field":"y0","type":"quantitative","scale":{"domain":[-22.5,22.2],"range":[32,185],"nice":false,"zero":false},"axis":{"orient":"left","offset":-540,"values":[-20,-10,0,10,20],"title":null}},"y2":{"field":"y1"}}},
{"data":{"values":[{"x0":-21.5,"x1":21.5,"y0":-22.5,"y1":22.2}]},"mark":{"type":"rect","fillOpacity":0,"strokeOpacity":0},
 "encoding":{"x":{"field":"x0","type":"quantitative","scale":{"domain":[-21.5,21.5],"range":[697,540],"nice":false,"zero":false},"axis":{"orient":"bottom","offset":-196,"values":[20,10,0,-10,-20],"labels":false,"title":null}},"x2":{"field":"x1"},
 "y":{"field":"y0","type":"quantitative","scale":{"domain":[-22.5,22.2],"range":[32,185],"nice":false,"zero":false},"axis":{"orient":"right","offset":-28,"values":[-20,-10,0,10,20],"labels":false,"title":null}},"y2":{"field":"y1"}}},
{"data":{"values":[{"x0":-21.5,"x1":21.5,"y0":-22.5,"y1":22.2}]},"mark":{"type":"rect","fillOpacity":0,"strokeOpacity":0},
 "encoding":{"x":{"field":"x0","type":"quantitative","scale":{"domain":[-21.5,21.5],"range":[697,540],"nice":false,"zero":false},"axis":{"orient":"top","offset":-32,"values":[-21,-19,-18,-17,-16,-15,-14,-13,-12,-11,-9,-8,-7,-6,-5,-4,-3,-2,-1,1,2,3,4,5,6,7,8,9,11,12,13,14,15,16,17,18,19,21],"labels":false,"title":null,"tickSize":-2.5}},"x2":{"field":"x1"},
 "y":{"field":"y0","type":"quantitative","scale":{"domain":[-22.5,22.2],"range":[32,185],"nice":false,"zero":false},"axis":{"orient":"left","offset":-540,"values":[-22,-21,-19,-18,-17,-16,-15,-14,-13,-12,-11,-9,-8,-7,-6,-5,-4,-3,-2,-1,1,2,3,4,5,6,7,8,9,11,12,13,14,15,16,17,18,19,21,22],"labels":false,"title":null,"tickSize":-2.5}},"y2":{"field":"y1"}}},
{"data":{"values":[{"x0":-21.5,"x1":21.5,"y0":-22.5,"y1":22.2}]},"mark":{"type":"rect","fillOpacity":0,"strokeOpacity":0},
 "encoding":{"x":{"field":"x0","type":"quantitative","scale":{"domain":[-21.5,21.5],"range":[697,540],"nice":false,"zero":false},"axis":{"orient":"bottom","offset":-196,"values":[-21,-19,-18,-17,-16,-15,-14,-13,-12,-11,-9,-8,-7,-6,-5,-4,-3,-2,-1,1,2,3,4,5,6,7,8,9,11,12,13,14,15,16,17,18,19,21],"labels":false,"title":null,"tickSize":-2.5}},"x2":{"field":"x1"},
 "y":{"field":"y0","type":"quantitative","scale":{"domain":[-22.5,22.2],"range":[32,185],"nice":false,"zero":false},"axis":{"orient":"right","offset":-28,"values":[-22,-21,-19,-18,-17,-16,-15,-14,-13,-12,-11,-9,-8,-7,-6,-5,-4,-3,-2,-1,1,2,3,4,5,6,7,8,9,11,12,13,14,15,16,17,18,19,21,22],"labels":false,"title":null,"tickSize":-2.5}},"y2":{"field":"y1"}}},
{"data":{"values":[{"r":21.5,"b":21.5},{"r":-21.5,"b":-21.5}]},"mark":{"type":"line","color":"black","strokeWidth":1.5},
 "encoding":{"x":{"field":"r","type":"quantitative","scale":{"domain":[-21.5,21.5],"range":[697,540],"nice":false,"zero":false},"axis":null},"y":{"field":"b","type":"quantitative","scale":{"domain":[-22.5,22.2],"range":[32,185],"nice":false,"zero":false},"axis":null}}},
{"data":{"name":"corr"},"mark":{"type":"errorbar","color":"black","thickness":1},
 "encoding":{"x":{"field":"r","type":"quantitative","scale":{"domain":[-21.5,21.5],"range":[697,540],"nice":false,"zero":false},"axis":null},"xError":{"field":"e"},"y":{"field":"b","type":"quantitative","scale":{"domain":[-22.5,22.2],"range":[32,185],"nice":false,"zero":false},"axis":null}}},
{"data":{"name":"corr"},"mark":{"type":"errorbar","color":"black","thickness":1},
 "encoding":{"y":{"field":"b","type":"quantitative","scale":{"domain":[-22.5,22.2],"range":[32,185],"nice":false,"zero":false},"axis":null},"yError":{"field":"e"},"x":{"field":"r","type":"quantitative","scale":{"domain":[-21.5,21.5],"range":[697,540],"nice":false,"zero":false},"axis":null}}},
{"data":{"name":"corr"},"mark":{"type":"circle","size":12,"color":"black","opacity":1},
 "encoding":{"x":{"field":"r","type":"quantitative","scale":{"domain":[-21.5,21.5],"range":[697,540],"nice":false,"zero":false},"axis":null},"y":{"field":"b","type":"quantitative","scale":{"domain":[-22.5,22.2],"range":[32,185],"nice":false,"zero":false},"axis":null}}},
{"data":{"name":"one"},"mark":{"type":"text","fontSize":8,"align":"left"},"encoding":{"x":{"datum":18.2,"type":"quantitative","scale":{"domain":[-21.5,21.5],"range":[697,540],"nice":false,"zero":false},"axis":null},"y":{"datum":-19.3,"type":"quantitative","scale":{"domain":[-22.5,22.2],"range":[32,185],"nice":false,"zero":false},"axis":null},"text":{"value":"ζ Pup, BRITE"}}},
{"data":{"name":"one"},"mark":{"type":"text","fontSize":8,"align":"left"},"encoding":{"x":{"datum":18.2,"type":"quantitative","scale":{"domain":[-21.5,21.5],"range":[697,540],"nice":false,"zero":false},"axis":null},"y":{"datum":-14.9,"type":"quantitative","scale":{"domain":[-22.5,22.2],"range":[32,185],"nice":false,"zero":false},"axis":null},"text":{"value":"ρ = 0.982"}}},
{"data":{"name":"one"},"mark":{"type":"text","fontSize":8,"align":"left"},"encoding":{"x":{"datum":18.2,"type":"quantitative","scale":{"domain":[-21.5,21.5],"range":[697,540],"nice":false,"zero":false},"axis":null},"y":{"datum":-11.1,"type":"quantitative","scale":{"domain":[-22.5,22.2],"range":[32,185],"nice":false,"zero":false},"axis":null},"text":{"value":"Slope: 0.99 ± 0.09"}}},

{"data":{"name":"hist"},"mark":{"type":"rect","fill":"#000080","stroke":"black","strokeWidth":1},
 "encoding":{"x":{"field":"lo","type":"quantitative","scale":{"domain":[-1.58,1.64],"range":[540,693],"nice":false,"zero":false},"axis":null},"x2":{"field":"hi"},"y":{"field":"n","type":"quantitative","scale":{"domain":[0,10.57],"range":[343,195],"nice":false,"zero":false},"axis":null},"y2":{"datum":0}}},
{"data":{"name":"gauss"},"mark":{"type":"line","color":"black","strokeWidth":2.2,"interpolate":"monotone"},
 "encoding":{"x":{"field":"x","type":"quantitative","scale":{"domain":[-1.58,1.64],"range":[540,693],"nice":false,"zero":false},"axis":null},"y":{"field":"y","type":"quantitative","scale":{"domain":[0,10.57],"range":[343,195],"nice":false,"zero":false},"axis":null}}},
{"data":{"values":[{"x0":-1.58,"x1":1.64,"y0":0,"y1":10.57}]},"mark":{"type":"rect","fillOpacity":0,"stroke":"black","strokeWidth":1},
 "encoding":{"x":{"field":"x0","type":"quantitative","scale":{"domain":[-1.58,1.64],"range":[540,693],"nice":false,"zero":false},"axis":{"orient":"bottom","offset":-38,"values":[-1,0,1],"title":"Orthogonal Distances [mmag]"}},"x2":{"field":"x1"},
 "y":{"field":"y0","type":"quantitative","scale":{"domain":[0,10.57],"range":[343,195],"nice":false,"zero":false},"axis":{"orient":"right","offset":-32,"values":[0,2,4,6,8,10],"title":"Frequency","titleAngle":270,"titleBaseline":"top"}},"y2":{"field":"y1"}}},
{"data":{"values":[{"x0":-1.58,"x1":1.64,"y0":0,"y1":10.57}]},"mark":{"type":"rect","fillOpacity":0,"strokeOpacity":0},
 "encoding":{"x":{"field":"x0","type":"quantitative","scale":{"domain":[-1.58,1.64],"range":[540,693],"nice":false,"zero":false},"axis":{"orient":"top","offset":-195,"values":[-1,0,1],"labels":false,"title":null}},"x2":{"field":"x1"},
 "y":{"field":"y0","type":"quantitative","scale":{"domain":[0,10.57],"range":[343,195],"nice":false,"zero":false},"axis":{"orient":"left","offset":-540,"values":[0,2,4,6,8,10],"labels":false,"title":null}},"y2":{"field":"y1"}}},
{"data":{"values":[{"x0":-1.58,"x1":1.64,"y0":0,"y1":10.57}]},"mark":{"type":"rect","fillOpacity":0,"strokeOpacity":0},
 "encoding":{"x":{"field":"x0","type":"quantitative","scale":{"domain":[-1.58,1.64],"range":[540,693],"nice":false,"zero":false},"axis":{"orient":"bottom","offset":-38,"values":[-1.5,-1.4,-1.3,-1.2,-1.1,-0.9,-0.8,-0.7,-0.6,-0.5,-0.4,-0.3,-0.2,-0.1,0.1,0.2,0.3,0.4,0.5,0.6,0.7,0.8,0.9,1.1,1.2,1.3,1.4,1.5,1.6],"labels":false,"title":null,"tickSize":-2.5}},"x2":{"field":"x1"},
 "y":{"field":"y0","type":"quantitative","scale":{"domain":[0,10.57],"range":[343,195],"nice":false,"zero":false},"axis":{"orient":"right","offset":-32,"values":[0.5,1,1.5,2.5,3,3.5,4.5,5,5.5,6.5,7,7.5,8.5,9,9.5,10.5],"labels":false,"title":null,"tickSize":-2.5}},"y2":{"field":"y1"}}},
{"data":{"values":[{"x0":-1.58,"x1":1.64,"y0":0,"y1":10.57}]},"mark":{"type":"rect","fillOpacity":0,"strokeOpacity":0},
 "encoding":{"x":{"field":"x0","type":"quantitative","scale":{"domain":[-1.58,1.64],"range":[540,693],"nice":false,"zero":false},"axis":{"orient":"top","offset":-195,"values":[-1.5,-1.4,-1.3,-1.2,-1.1,-0.9,-0.8,-0.7,-0.6,-0.5,-0.4,-0.3,-0.2,-0.1,0.1,0.2,0.3,0.4,0.5,0.6,0.7,0.8,0.9,1.1,1.2,1.3,1.4,1.5,1.6],"labels":false,"title":null,"tickSize":-2.5}},"x2":{"field":"x1"},
 "y":{"field":"y0","type":"quantitative","scale":{"domain":[0,10.57],"range":[343,195],"nice":false,"zero":false},"axis":{"orient":"left","offset":-540,"values":[0.5,1,1.5,2.5,3,3.5,4.5,5,5.5,6.5,7,7.5,8.5,9,9.5,10.5],"labels":false,"title":null,"tickSize":-2.5}},"y2":{"field":"y1"}}},
{"data":{"name":"one"},"mark":{"type":"text","fontSize":8},"encoding":{"x":{"datum":0.06,"type":"quantitative","scale":{"domain":[-1.58,1.64],"range":[540,693],"nice":false,"zero":false},"axis":null},"y":{"datum":9.74,"type":"quantitative","scale":{"domain":[0,10.57],"range":[343,195],"nice":false,"zero":false},"axis":null},"text":{"value":"σ = 0.45 ± 0.07 mmag"}}}
],
"resolve":{"scale":{"x":"independent","y":"independent","color":"independent"},"axis":{"x":"independent","y":"independent"}}
}
